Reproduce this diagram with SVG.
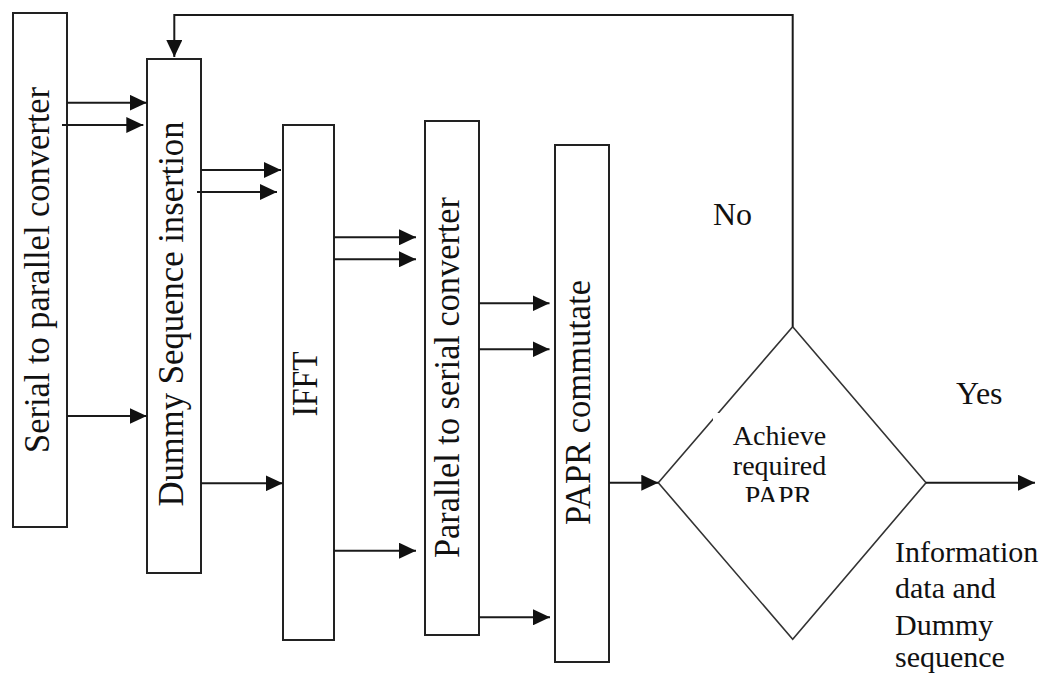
<svg xmlns="http://www.w3.org/2000/svg" width="1050" height="675" viewBox="0 0 1050 675">
  <style>
    .box { fill: #ffffff; stroke: #222222; stroke-width: 2; }
    .dec { fill: #ffffff; stroke: #333333; stroke-width: 1.6; }
    .wire { fill: none; stroke: #1a1a1a; stroke-width: 2; }
    .lbl { fill: #111111; }
    .vert { font-size: 35px; text-anchor: middle; }
    .face { font-family: 'Liberation Serif', Tinos, 'Noto Serif', 'Nimbus Roman', 'Nimbus Roman No9 L', FreeSerif, 'DejaVu Serif', Times, serif; }
  </style>
  <defs>
    <marker id="arrow" markerUnits="userSpaceOnUse" markerWidth="18" markerHeight="16" refX="17" refY="8" orient="auto">
      <path d="M0,0 L17,8 L0,16 Z" fill="#111111"/>
    </marker>
    <clipPath id="decClip">
      <rect x="713" y="413" width="132" height="89"/>
    </clipPath>
  </defs>

  <g class="face">
  <!-- processing blocks -->
  <g id="serial-to-parallel">
    <rect class="box" x="13" y="13" width="54" height="514"/>
    <text class="lbl vert" transform="translate(49,270) rotate(-90)" textLength="366" lengthAdjust="spacingAndGlyphs">Serial to parallel converter</text>
  </g>

  <g id="dummy-insertion">
    <rect class="box" x="147" y="59" width="54" height="514"/>
    <text class="lbl vert" transform="translate(182.5,314) rotate(-90)" textLength="385" lengthAdjust="spacingAndGlyphs">Dummy Sequence insertion</text>
  </g>

  <g id="ifft">
    <rect class="box" x="283" y="125" width="51" height="515"/>
    <text class="lbl vert" transform="translate(316.5,384) rotate(-90)" textLength="65" lengthAdjust="spacingAndGlyphs">IFFT</text>
  </g>

  <g id="parallel-to-serial">
    <rect class="box" x="425" y="121" width="54" height="514"/>
    <text class="lbl vert" transform="translate(459,377.5) rotate(-90)" textLength="361" lengthAdjust="spacingAndGlyphs">Parallel to serial converter</text>
  </g>

  <g id="papr-commutate">
    <rect class="box" x="555" y="145" width="54" height="517"/>
    <text class="lbl vert" transform="translate(590,402.5) rotate(-90)" textLength="245" lengthAdjust="spacingAndGlyphs">PAPR commutate</text>
  </g>

  <!-- decision -->
  <g id="papr-check">
    <polygon class="dec" points="792.7,326.7 926,482.7 792.7,639.3 658.3,482.7"/>
    <rect x="713" y="413" width="132" height="89" fill="#ffffff"/>
    <g clip-path="url(#decClip)" class="lbl" font-size="28" text-anchor="middle">
      <text x="779.5" y="445">Achieve</text>
      <text x="779.5" y="475">required</text>
      <text x="778.5" y="505">PAPR</text>
    </g>
  </g>

  <!-- connectors -->
  <g id="connectors" class="wire">
    <line x1="67" y1="102.7" x2="146.7" y2="102.7" marker-end="url(#arrow)"/>
    <line x1="62" y1="125" x2="143.3" y2="125" marker-end="url(#arrow)"/>
    <line x1="67" y1="416" x2="146.7" y2="416" marker-end="url(#arrow)"/>

    <line x1="201" y1="170" x2="281" y2="170" marker-end="url(#arrow)"/>
    <line x1="197" y1="192" x2="277" y2="192" marker-end="url(#arrow)"/>
    <line x1="201" y1="483.3" x2="282.7" y2="483.3" marker-end="url(#arrow)"/>

    <line x1="334" y1="237.3" x2="416" y2="237.3" marker-end="url(#arrow)"/>
    <line x1="334" y1="259.3" x2="416" y2="259.3" marker-end="url(#arrow)"/>
    <line x1="334" y1="550.7" x2="416" y2="550.7" marker-end="url(#arrow)"/>

    <line x1="479" y1="303.3" x2="549.5" y2="303.3" marker-end="url(#arrow)"/>
    <line x1="479" y1="349.3" x2="549.5" y2="349.3" marker-end="url(#arrow)"/>
    <line x1="479" y1="617.3" x2="550" y2="617.3" marker-end="url(#arrow)"/>

    <line x1="609" y1="482.7" x2="658.3" y2="482.7" marker-end="url(#arrow)"/>
    <line x1="926" y1="482.7" x2="1035" y2="482.7" marker-end="url(#arrow)"/>

    <polyline points="792.7,326.7 792.7,15 174.3,15 174.3,57" marker-end="url(#arrow)"/>
  </g>

  <!-- branch labels -->
  <g id="labels" class="lbl">
    <text x="713" y="225" font-size="32">No</text>
    <text x="956" y="404" font-size="32">Yes</text>
    <g font-size="30">
      <text x="895" y="562">Information</text>
      <text x="895" y="598">data and</text>
      <text x="895" y="635">Dummy</text>
      <text x="895" y="667">sequence</text>
    </g>
  </g>
  </g>
</svg>
